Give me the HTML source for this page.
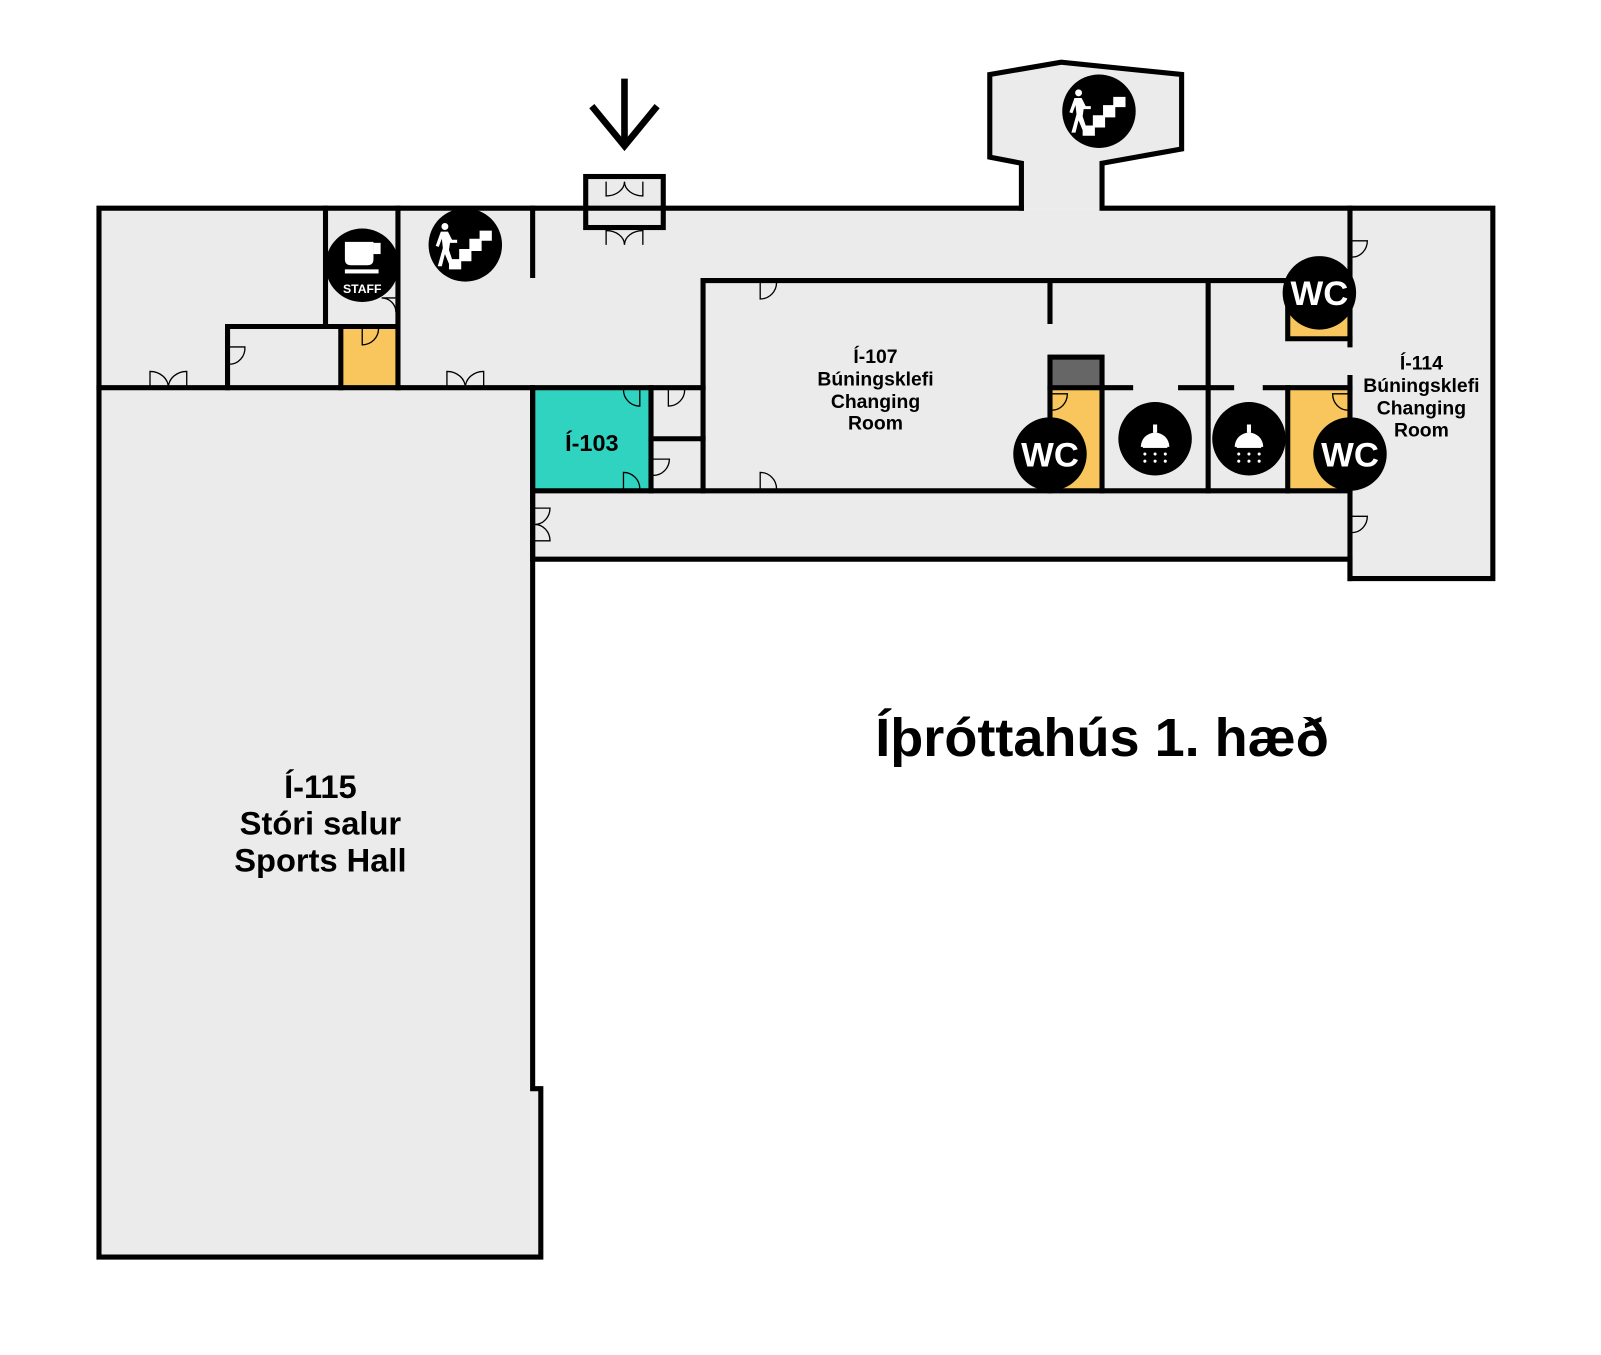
<!DOCTYPE html>
<html><head><meta charset="utf-8"><style>
html,body{margin:0;padding:0;background:#fff;}
svg{display:block;}
text{font-family:"Liberation Sans",sans-serif;font-weight:bold;}
</style></head><body>
<svg width="1601" height="1355" viewBox="0 0 1569 1328" preserveAspectRatio="none" xmlns="http://www.w3.org/2000/svg">
<defs>
<g id="stair">
<path fill="#fff" d="M-16,24 V14 H-6 V4 H4 V-6 H14 V-14 H26 V-4 H16 V6 H6 V16 H-4 V24Z"/>
<circle fill="#fff" cx="-20" cy="-18" r="3.4"/>
<path fill="#fff" d="M-24,-13 L-17,-13 L-13,-5 L-8,-5 L-8,-2 L-15,-2 L-16,5 L-11,20 L-15,21 L-20,9 L-23,21 L-27,21 L-22,3 L-23,-6 L-26,2 L-29,1Z"/>
</g>
</defs>
<g fill="#ebebeb" stroke="none">
<rect x="97" y="204" width="1366" height="344"/>
<rect x="1323" y="204" width="140" height="363"/>
<rect x="97" y="380" width="425" height="852"/>
<rect x="522" y="1067" width="8" height="165"/>
<polygon points="970,73 1040,61 1158,73 1158,146 1080,160 1080,204 1001,204 1001,160 970,154"/>
<rect x="574" y="173" width="76" height="50"/>
</g>
<rect x="522" y="380" width="116" height="101" fill="#2fd3c0"/>
<rect x="334" y="320" width="56" height="60" fill="#f8c65c"/>
<rect x="1029" y="380" width="51" height="101" fill="#f8c65c"/>
<rect x="1262" y="380" width="61" height="101" fill="#f8c65c"/>
<rect x="1262" y="300" width="61" height="32" fill="#f8c65c"/>
<rect x="1029" y="350" width="51" height="30" fill="#666"/>
<g fill="none" stroke="#000" stroke-width="5" stroke-linecap="square">
<polyline points="1001,204 97,204 97,1232 530,1232 530,1067 522,1067 522,380"/>
<polyline points="1001,204 1001,160 970,154 970,73 1040,61 1158,73 1158,146 1080,160 1080,204 1463,204 1463,567 1323,567 1323,548 522,548 522,481"/>
<line x1="97" y1="380" x2="689" y2="380"/>
<line x1="319" y1="204" x2="319" y2="320"/>
<line x1="390" y1="204" x2="390" y2="380"/>
<polyline points="223,380 223,320 390,320"/>
<line x1="334" y1="320" x2="334" y2="380"/>
<line x1="522" y1="204" x2="522" y2="270"/>
<line x1="522" y1="380" x2="522" y2="481"/>
<line x1="638" y1="380" x2="638" y2="481"/>
<line x1="638" y1="430" x2="689" y2="430"/>
<rect x="574" y="173" width="76" height="50"/>
<line x1="522" y1="481" x2="1323" y2="481"/>
<polyline points="689,481 689,275 1323,275"/>
<line x1="1029" y1="275" x2="1029" y2="315"/>
<rect x="1029" y="350" width="51" height="30"/>
<line x1="1029" y1="380" x2="1029" y2="481"/>
<line x1="1080" y1="380" x2="1080" y2="481"/>
<line x1="1080" y1="380" x2="1108" y2="380"/>
<line x1="1157" y1="380" x2="1207" y2="380"/>
<line x1="1240" y1="380" x2="1323" y2="380"/>
<line x1="1184" y1="275" x2="1184" y2="481"/>
<line x1="1262" y1="380" x2="1262" y2="481"/>
<polyline points="1262,275 1262,332 1323,332"/>
<line x1="1323" y1="204" x2="1323" y2="338"/>
<line x1="1323" y1="370" x2="1323" y2="567"/>
</g>
<g fill="none" stroke="#000" stroke-width="6.5">
<line x1="612" y1="77" x2="612" y2="141"/>
<polyline points="580,104 612,143 644,104"/>
</g>
<g fill="none" stroke="#000" stroke-width="1.3">
<path d="M147,380 V364 A18,16 0 0 1 165,380 M183,380 V364 A18,16 0 0 0 165,380"/>
<path d="M438,380 V364 A18,16 0 0 1 456,380 M474,380 V364 A18,16 0 0 0 456,380"/>
<path d="M594,178 V192 A18,14 0 0 0 612,178 M630,178 V192 A18,14 0 0 1 612,178"/>
<path d="M594,240 V226 A18,14 0 0 1 612,240 M630,240 V226 A18,14 0 0 0 612,240"/>
<path d="M225,340 H240 A15,16 0 0 1 225,357"/>
<path d="M355,322 V338 A16,16 0 0 0 371,322"/>
<path d="M388,292 H374 A14,14 0 0 1 388,306"/>
<path d="M745,277 V293 A16,16 0 0 0 761,277"/>
<path d="M745,479 V463 A16,16 0 0 1 761,479"/>
<path d="M627,382 V398 A16,16 0 0 1 611,382"/>
<path d="M611,479 V463 A16,16 0 0 1 627,479"/>
<path d="M655,382 V398 A16,16 0 0 0 671,382"/>
<path d="M640,450 H656 A16,16 0 0 1 640,466"/>
<path d="M524,498 H539 A15,16 0 0 1 524,514 M524,530 H539 A15,16 0 0 0 524,514"/>
<path d="M1031,386 H1046 A15,16 0 0 1 1031,402"/>
<path d="M1321,386 H1306 A15,16 0 0 0 1321,402"/>
<path d="M1325,236 H1340 A15,16 0 0 1 1325,252"/>
<path d="M1325,506 H1340 A15,16 0 0 1 1325,522"/>
</g>
<g fill="#000">
<circle cx="456" cy="240" r="36"/>
<circle cx="355" cy="260" r="36"/>
<circle cx="1077" cy="109" r="36"/>
<circle cx="1132" cy="430" r="36"/>
<circle cx="1224" cy="430" r="36"/>
<circle cx="1029" cy="445" r="36"/>
<circle cx="1323" cy="445" r="36"/>
<circle cx="1293" cy="287" r="36"/>
</g>
<use href="#stair" x="456" y="240"/>
<use href="#stair" x="1077" y="109"/>
<g fill="#fff">
<path d="M338,237 H366 V254 Q366,260 360,260 H344 Q338,260 338,254Z"/>
<rect x="366" y="238" width="7" height="11"/>
<rect x="338" y="264" width="33" height="4"/>
<path d="M1118,438 A14,14 0 0 1 1146,438Z M1130,424 h4 v-8 h-4Z"/>
<path d="M1210,438 A14,14 0 0 1 1238,438Z M1222,424 h4 v-8 h-4Z"/>
<g>
<circle cx="1122" cy="445" r="1.5"/><circle cx="1132" cy="445" r="1.5"/><circle cx="1142" cy="445" r="1.5"/>
<circle cx="1122" cy="452" r="1.5"/><circle cx="1132" cy="452" r="1.5"/><circle cx="1142" cy="452" r="1.5"/>
<circle cx="1214" cy="445" r="1.5"/><circle cx="1224" cy="445" r="1.5"/><circle cx="1234" cy="445" r="1.5"/>
<circle cx="1214" cy="452" r="1.5"/><circle cx="1224" cy="452" r="1.5"/><circle cx="1234" cy="452" r="1.5"/>
</g>
<rect x="1120" y="436" width="24" height="3"/>
<rect x="1212" y="436" width="24" height="3"/>
</g>
<g fill="#fff" text-anchor="middle">
<text x="355" y="287" font-size="12">STAFF</text>
<text x="1029" y="457" font-size="34">WC</text>
<text x="1323" y="457" font-size="34">WC</text>
<text x="1293" y="299" font-size="34">WC</text>
</g>
<g fill="#000" text-anchor="middle">
<text x="580" y="442" font-size="23">Í-103</text>
<text font-size="19"><tspan x="858" y="356">Í-107</tspan><tspan x="858" y="378">Búningsklefi</tspan><tspan x="858" y="400">Changing</tspan><tspan x="858" y="421">Room</tspan></text>
<text font-size="19"><tspan x="1393" y="362">Í-114</tspan><tspan x="1393" y="384">Búningsklefi</tspan><tspan x="1393" y="406">Changing</tspan><tspan x="1393" y="428">Room</tspan></text>
<text font-size="32"><tspan x="314" y="782">Í-115</tspan><tspan x="314" y="818">Stóri salur</tspan><tspan x="314" y="854">Sports Hall</tspan></text>
<text x="1080" y="741" font-size="53">Íþróttahús 1. hæð</text>
</g>
</svg>
</body></html>
